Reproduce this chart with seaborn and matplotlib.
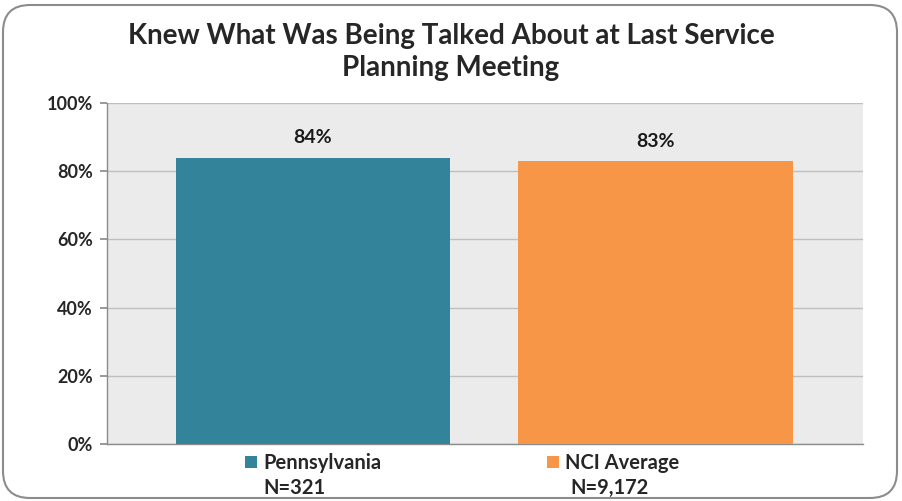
import pandas as pd
import matplotlib.pyplot as plt
import seaborn as sns
from matplotlib.patches import FancyBboxPatch, Patch

sns.set_theme(style="whitegrid")
plt.rcParams['font.family'] = ['Lato', 'DejaVu Sans']

groups = ["Pennsylvania", "NCI Average"]
values = [84, 83]
sample_sizes = ["N=321", "N=9,172"]
colors = ["#33849B", "#F79646"]
title = "Knew What Was Being Talked About at Last Service\nPlanning Meeting"

df = pd.DataFrame({"group": groups, "pct": values})

fig = plt.figure(figsize=(9.02, 5.01), dpi=100)
fig.patch.set_facecolor("white")
ax = fig.add_axes([107 / 902, 1 - 444 / 501, 756 / 902, 341 / 501])
ax.set_facecolor("#EBEBEB")

sns.barplot(data=df, x="group", y="pct", hue="group", palette=colors,
            width=0.8, saturation=1, legend=False, ax=ax, zorder=3,
            edgecolor="none", linewidth=0)

ax.set_xlim(-0.6, 1.605)
ax.set_ylim(0, 100)
ax.set_yticks(range(0, 101, 20))
ax.set_yticklabels([f"{v}%" for v in range(0, 101, 20)], fontsize=13, fontweight="bold")
ax.set_xticks([])
ax.set_xlabel("")
ax.set_ylabel("")
ax.grid(axis="y", color="#BFBFBF", linewidth=1, zorder=0)
ax.grid(axis="x", visible=False)
for s in ["top", "right"]:
    ax.spines[s].set_visible(False)
for s in ["left", "bottom"]:
    ax.spines[s].set_color("#8C8C8C")
    ax.spines[s].set_linewidth(1)
ax.tick_params(axis="y", length=5, color="#8C8C8C", pad=5, left=True)

for p, v in zip(ax.patches, values):
    ax.annotate(f"{v}%", (p.get_x() + p.get_width() / 2, p.get_height()),
                xytext=(0, 8), textcoords="offset points", ha="center", va="bottom",
                fontsize=14, fontweight="bold", color="#1A1A1A")

fig.suptitle(title, x=0.5, y=0.955, fontsize=20, fontweight="bold", linespacing=1.3)

handles = [Patch(facecolor=c, edgecolor="none") for c in colors]
leg = fig.legend(handles, groups, loc="center", bbox_to_anchor=(462 / 902, 1 - 463 / 501),
                 ncol=2, frameon=False, handlelength=0.6, handleheight=0.6,
                 handletextpad=0.3, columnspacing=8.2,
                 prop={"weight": "bold", "size": 14.5})

fig.text(294 / 902, 1 - 488 / 501, sample_sizes[0], ha="center", va="center",
         fontsize=14.5, fontweight="bold")
fig.text(610 / 902, 1 - 488 / 501, sample_sizes[1], ha="center", va="center",
         fontsize=14.5, fontweight="bold")

border = FancyBboxPatch((3 / 902, 3 / 501), 894 / 902, 493 / 501,
                        boxstyle="round,pad=0,rounding_size=0.03",
                        transform=fig.transFigure, facecolor="none",
                        edgecolor="#8C8C8C", linewidth=1.5, mutation_aspect=902 / 501)
fig.patches.append(border)

fig.savefig("out.png", dpi=100)
